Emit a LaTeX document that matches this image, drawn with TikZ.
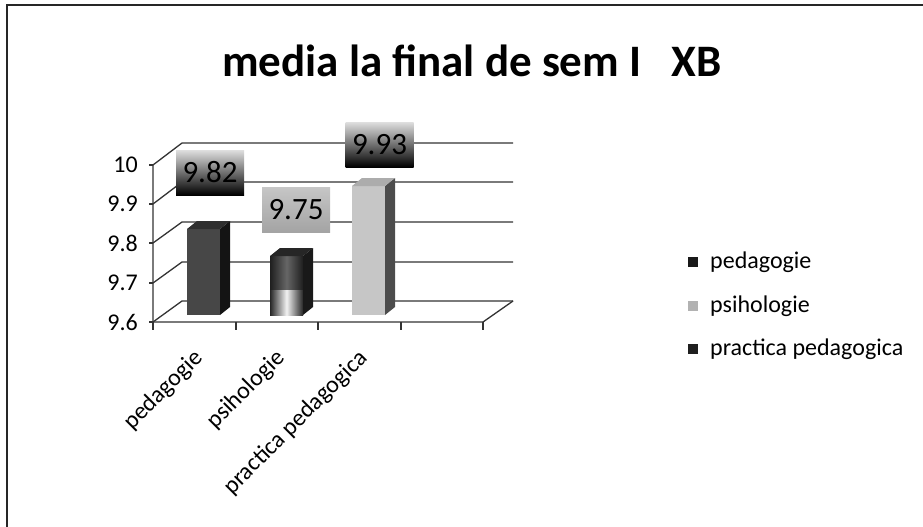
\documentclass[tikz,border=0pt]{standalone}
\usepackage{fontspec}
\setmainfont{Carlito}
\usepackage{tikz}
\usepackage{xcolor}

\begin{document}
\begin{tikzpicture}[x=1pt, y=-1pt,
  gridStyle/.style={draw=black!80, line width=1.3pt},
  textStyle/.style={inner sep=0pt, font=\fontsize{24}{28}\selectfont},
  tickLabel/.style={textStyle, anchor=east},
  catLabel/.style={textStyle, anchor=north east, rotate=45},
  legendLabel/.style={textStyle, anchor=base west},
  valueBox/.style={inner sep=0pt, font=\fontsize{31}{34}\selectfont, minimum width=68pt, minimum height=45pt}
]
\useasboundingbox (0,0) rectangle (923,527);

% frame
\draw [line width=1.8pt, black!85] (7,527) -- (7,5) -- (923,5);

\node [anchor=base, inner sep=0pt, font=\fontsize{45}{50}\selectfont\bfseries] (title) at (472,77) {media la final de sem I\ \ \ XB};

% walls and floor
\draw [gridStyle] (153,165) -- (182,143) -- (513,143);
\draw [gridStyle] (153,204) -- (182,182) -- (513,182);
\draw [gridStyle] (153,243) -- (182,222) -- (513,222);
\draw [gridStyle] (153,283) -- (182,262) -- (513,262);
\draw [gridStyle] (153,322) -- (182,301) -- (513,301);
\draw [gridStyle] (153,165) -- (153,322) -- (483,322) -- (513,301);
\draw [gridStyle] (149,165) -- (153,165) (149,204) -- (153,204) (149,243) -- (153,243) (149,283) -- (153,283) (149,322) -- (153,322);
\draw [gridStyle] (153,322) -- (153,330) (236,322) -- (236,330) (318,322) -- (318,330) (401,322) -- (401,330) (483,322) -- (483,330);

\node [tickLabel] (t10)  at (138,165) {10};
\node [tickLabel] (t99)  at (138,204) {9.9};
\node [tickLabel] (t98)  at (138,243) {9.8};
\node [tickLabel] (t97)  at (138,283) {9.7};
\node [tickLabel] (t96)  at (138,322) {9.6};

% bars
\fill [black!72] (187,315) rectangle (220,229);
\fill [black!92] (220,315) -- (230,307) -- (230,221) -- (220,229) -- cycle;
\fill [black!82] (187,229) -- (220,229) -- (230,221) -- (197,221) -- cycle;

\fill [left color=black!88, right color=black!88, middle color=black!60] (270,290) rectangle (303,256);
\fill [left color=black!85, right color=black!85, middle color=gray!10] (270,315) rectangle (303,290);
\fill [black!90] (303,315) -- (313,307) -- (313,248) -- (303,256) -- cycle;
\fill [black!85] (270,256) -- (303,256) -- (313,248) -- (280,248) -- cycle;

\fill [gray!45] (352,315) rectangle (385,186);
\fill [black!70] (385,315) -- (395,307) -- (395,178) -- (385,186) -- cycle;
\fill [gray!65] (352,186) -- (385,186) -- (395,178) -- (362,178) -- cycle;

% value labels
\node [valueBox, top color=gray!25, middle color=black, bottom color=black] (v1) at (210,172.5) {9.82};
\node [valueBox, top color=gray!45, bottom color=gray!72] (v2) at (296,210) {9.75};
\node [valueBox, top color=gray!25, middle color=black, bottom color=black] (v3) at (379.5,144.5) {9.93};

\node [catLabel] (c1) at (192,347) {pedagogie};
\node [catLabel] (c2) at (274,347) {psihologie};
\node [catLabel] (c3) at (357,347) {practica pedagogica};

% legend
\fill [black!90] (688,257) rectangle (698,267);
\fill [gray!60] (688,301) rectangle (698,311);
\fill [black!88] (688,344) rectangle (698,354);
\node [legendLabel] (l1) at (710,268) {pedagogie};
\node [legendLabel] (l2) at (710,312) {psihologie};
\node [legendLabel] (l3) at (710,355) {practica pedagogica};
\end{tikzpicture}
\end{document}
